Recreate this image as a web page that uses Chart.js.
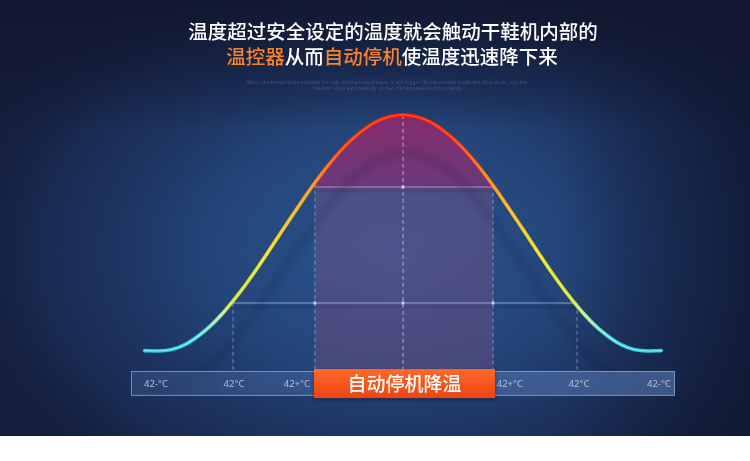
<!DOCTYPE html>
<html><head><meta charset="utf-8">
<script src="https://cdn.jsdelivr.net/npm/chart.js@4.4.1/dist/chart.umd.min.js"></script>
<style>html,body{margin:0;padding:0;background:#fff;}canvas{display:block;}</style>
</head><body>
<canvas id="c" width="750" height="461"></canvas>
<script>
// ---------- data ----------
const titleLine1 = '温度超过安全设定的温度就会触动干鞋机内部的';
const titleLine2Parts = ['温控器', '从而', '自动停机', '使温度迅速降下来'];
const titleLine2Accent = [true, false, true, false];
const subTextLines = [
  'When the temperature exceeds the safe setting temperature, it will trigger the thermostat inside the shoe dryer, and the',
  'machine stops automatically so that the temperature drops rapidly.'
];
const curveX = [-9.5,-9,-8.5,-8,-7.5,-7,-6.5,-6,-5.5,-5,-4.5,-4,-3.5,-3,-2.5,-2,-1.5,-1,-0.5,0,
                 0.5,1,1.5,2,2.5,3,3.5,4,4.5,5,5.5,6,6.5,7,7.5,8,8.5,9,9.5];
const curveY = [7.5,7.4,7.9,9.8,13.1,17.4,22.8,29.0,35.9,43.3,50.9,58.4,65.8,72.7,78.9,84.3,88.6,91.9,93.8,94.5,
                 93.8,91.9,88.6,84.3,78.9,72.7,65.8,58.4,50.9,43.3,35.9,29.0,22.8,17.4,13.1,9.8,7.9,7.4,7.5];
const zoneX = [-3.24, 3.31];          // shaded zone edges
const zoneEdgeY = [69.2, 68.4];       // curve height at the zone edges
const upperLevel = 67.9;              // upper horizontal guide
const lowerLevel = 25.1;              // lower horizontal guide
const lowerSpan = [-6.25, 6.40];
const guideX = [-6.25, -3.24, 0, 3.31, 6.40];
const guideTop = [25.1, 69.2, 94.5, 68.4, 25.1];
const dotX = [-3.24, 0, 3.31, 0];
const dotY = [25.1, 25.1, 25.1, 67.9];
const tickPos = [-9.08, -6.21, -3.90, 3.93, 6.47, 9.41];
const tickLabels = ['42-°C', '42°C', '42+°C', '42+°C', '42°C', '42-°C'];
const badgeText = '自动停机降温';
const badgeSpan = [-3.27, 3.38];
const barBottom = -9.2, badgeTop = 0.7, badgeBottom = -10;

// ---------- helpers ----------
const pts = (xs, ys) => xs.map((x, i) => ({x, y: ys[i]}));
function vGrad(chart, stops) {
  const y = chart.scales.y, ctx = chart.ctx;
  const g = ctx.createLinearGradient(0, y.getPixelForValue(0), 0, y.getPixelForValue(95));
  stops.forEach(s => g.addColorStop(s[0], s[1]));
  return g;
}
const curveStops = [[0, '#18c8e8'], [0.078, '#1ed2e8'], [0.15, '#4cdcd0'], [0.21, '#a8e69a'],
  [0.27, '#c8e02a'], [0.47, '#e8dc18'], [0.65, '#f6aa1c'], [0.74, '#ff8414'], [0.84, '#ff4410'], [1, '#ff1a06']];
const hiStops = [[0, 'rgba(150,245,255,0.6)'], [0.2, 'rgba(230,255,220,0.7)'], [0.45, 'rgba(255,250,140,0.6)'],
  [0.7, 'rgba(255,200,110,0.5)'], [1, 'rgba(255,140,80,0.5)']];
const fillStops = [[0, 'rgba(125,75,125,0.42)'], [0.7, 'rgba(130,85,135,0.40)'], [0.715, 'rgba(175,38,112,0.5)'],
  [1, 'rgba(200,28,100,0.6)']];

const zoneData = [{x: zoneX[0], y: zoneEdgeY[0]}]
  .concat(pts(curveX, curveY).filter(p => p.x > zoneX[0] && p.x < zoneX[1]))
  .concat([{x: zoneX[1], y: zoneEdgeY[1]}]);

const datasets = [];
datasets.push({ // shaded zone
  data: zoneData, borderWidth: 0, borderColor: 'rgba(0,0,0,0)', fill: 'origin',
  backgroundColor: c => c.chart.chartArea ? vGrad(c.chart, fillStops) : 'rgba(0,0,0,0)',
  cubicInterpolationMode: 'monotone', pointRadius: 0, order: 10
});
datasets.push({ // lower horizontal guide
  data: [{x: lowerSpan[0], y: lowerLevel}, {x: lowerSpan[1], y: lowerLevel}],
  borderColor: 'rgba(150,172,225,0.6)', borderWidth: 1.5, pointRadius: 0, order: 8, shadow: 'line'
});
datasets.push({ // upper horizontal guide
  data: [{x: zoneX[0], y: upperLevel}, {x: zoneX[1], y: upperLevel}],
  borderColor: 'rgba(185,160,215,0.55)', borderWidth: 1.5, pointRadius: 0, order: 8, shadow: 'line'
});
guideX.forEach((gx, i) => datasets.push({
  data: [{x: gx, y: guideTop[i]}, {x: gx, y: 0}],
  borderColor: gx === 0 ? 'rgba(205,205,250,0.75)' : 'rgba(150,165,230,0.7)',
  borderWidth: 1, borderDash: [4, 3], pointRadius: 0, order: 7
}));
datasets.push({ // small square markers
  data: pts(dotX, dotY), showLine: false, pointStyle: 'rect', pointRadius: 2,
  pointBackgroundColor: '#c4cdf6', pointBorderWidth: 0, order: 6
});
datasets.push({ // main bell curve
  data: pts(curveX, curveY), borderWidth: 3.6, cubicInterpolationMode: 'monotone', pointRadius: 0,
  borderColor: c => c.chart.chartArea ? vGrad(c.chart, curveStops) : '#f00',
  borderCapStyle: 'round', order: 2, shadow: 'curve'
});
datasets.push({ // highlight stripe
  data: pts(curveX, curveY), borderWidth: 1.1, cubicInterpolationMode: 'monotone', pointRadius: 0,
  borderColor: c => c.chart.chartArea ? vGrad(c.chart, hiStops) : '#fff', order: 1
});

// ---------- plugins ----------
const bgPlugin = {
  id: 'bg',
  beforeDraw(chart) {
    const {ctx, width, height} = chart;
    const H = 436;
    ctx.save();
    ctx.fillStyle = '#ffffff'; ctx.fillRect(0, 0, width, height);
    ctx.fillStyle = '#141d3b'; ctx.fillRect(0, 0, width, H);
    ctx.beginPath(); ctx.rect(0, 0, width, H); ctx.clip();
    ctx.save();
    ctx.translate(390, 250); ctx.scale(1.45, 1);
    const g = ctx.createRadialGradient(0, 0, 0, 0, 0, 320);
    g.addColorStop(0, 'rgba(42,86,144,1)');
    g.addColorStop(0.4, 'rgba(36,70,124,0.95)');
    g.addColorStop(0.75, 'rgba(29,50,94,0.65)');
    g.addColorStop(1, 'rgba(20,30,60,0)');
    ctx.fillStyle = g; ctx.fillRect(-400, -320, 800, 640);
    ctx.restore();
    const tg = ctx.createLinearGradient(0, 0, 0, 130);
    tg.addColorStop(0, 'rgba(16,22,46,0.9)'); tg.addColorStop(1, 'rgba(16,22,46,0)');
    ctx.fillStyle = tg; ctx.fillRect(0, 0, width, 130);
    const rg = ctx.createLinearGradient(560, 0, width, 0);
    rg.addColorStop(0, 'rgba(14,22,48,0)'); rg.addColorStop(1, 'rgba(14,22,48,0.6)');
    ctx.fillStyle = rg; ctx.fillRect(560, 0, width - 560, H);
    ctx.restore();
  },
  beforeDatasetDraw(chart, args) {
    const ds = chart.data.datasets[args.index];
    const ctx = chart.ctx;
    ctx.save();
    if (ds.shadow === 'curve') {
      ctx.shadowColor = 'rgba(8,14,36,0.32)'; ctx.shadowBlur = 8; ctx.shadowOffsetX = 2; ctx.shadowOffsetY = 38;
    } else if (ds.shadow === 'line') {
      ctx.shadowColor = 'rgba(10,16,40,0.35)'; ctx.shadowBlur = 2; ctx.shadowOffsetY = 4;
    }
  },
  afterDatasetDraw(chart) { chart.ctx.restore(); },
  afterDatasetsDraw(chart) {
    const {ctx, scales: {x, y}} = chart;
    ctx.save();
    // bottom strip
    const bl = x.getPixelForValue(-10), br = x.getPixelForValue(10);
    const bt = y.getPixelForValue(0), bb = y.getPixelForValue(barBottom);
    const sg = ctx.createLinearGradient(bl, 0, br, 0);
    sg.addColorStop(0, 'rgba(70,100,160,0.35)'); sg.addColorStop(1, 'rgba(110,150,215,0.45)');
    ctx.fillStyle = sg; ctx.fillRect(bl, bt, br - bl, bb - bt);
    ctx.strokeStyle = 'rgba(130,160,215,0.8)'; ctx.lineWidth = 1;
    ctx.strokeRect(bl + 0.5, bt + 0.5, br - bl - 1, bb - bt - 1);
    // tick labels
    ctx.fillStyle = 'rgba(200,212,236,0.85)';
    ctx.font = '9.5px "Noto Sans", "DejaVu Sans", sans-serif';
    ctx.textAlign = 'center'; ctx.textBaseline = 'middle';
    tickPos.forEach((p, i) => ctx.fillText(tickLabels[i], x.getPixelForValue(p), (bt + bb) / 2 + 1));
    // orange badge
    const ol = x.getPixelForValue(badgeSpan[0]), or = x.getPixelForValue(badgeSpan[1]);
    const ot = y.getPixelForValue(badgeTop), ob = y.getPixelForValue(badgeBottom);
    const og = ctx.createLinearGradient(0, ot, 0, ob);
    og.addColorStop(0, '#ff6a2a'); og.addColorStop(1, '#ec4412');
    ctx.save();
    ctx.shadowColor = 'rgba(0,0,0,0.35)'; ctx.shadowBlur = 4; ctx.shadowOffsetY = 2;
    ctx.fillStyle = og; ctx.fillRect(ol, ot, or - ol, ob - ot);
    ctx.restore();
    ctx.fillStyle = '#ffffff';
    ctx.font = '500 19px "Noto Sans CJK SC", sans-serif';
    ctx.fillText(badgeText, (ol + or) / 2, (ot + ob) / 2);
    ctx.restore();
  },
  afterDraw(chart) {
    const ctx = chart.ctx;
    ctx.save();
    ctx.textBaseline = 'middle';
    ctx.font = '500 19.5px "Noto Sans CJK SC", sans-serif';
    ctx.textAlign = 'center';
    ctx.fillStyle = '#ffffff';
    ctx.fillText(titleLine1, 393, 32);
    const widths = titleLine2Parts.map(t => ctx.measureText(t).width);
    const total = widths.reduce((a, b) => a + b, 0);
    let cx = 392 - total / 2;
    ctx.textAlign = 'left';
    titleLine2Parts.forEach((t, i) => {
      ctx.fillStyle = titleLine2Accent[i] ? '#f5852c' : '#ffffff';
      ctx.fillText(t, cx, 57);
      cx += widths[i];
    });
    ctx.textAlign = 'center';
    ctx.font = '5px "DejaVu Sans", sans-serif';
    ctx.fillStyle = 'rgba(120,140,195,0.45)';
    ctx.fillText(subTextLines[0], 387, 83, 280);
    ctx.fillText(subTextLines[1], 388, 89, 150);
    ctx.restore();
  }
};

new Chart(document.getElementById('c'), {
  type: 'line',
  data: {datasets},
  options: {
    responsive: false, animation: false, devicePixelRatio: 1,
    layout: {padding: {left: 131, right: 75, top: 100, bottom: 57.5}},
    scales: {
      x: {type: 'linear', min: -10, max: 10, display: false},
      y: {type: 'linear', min: -12, max: 100, display: false}
    },
    plugins: {legend: {display: false}, tooltip: {enabled: false}, title: {display: false}},
    elements: {point: {radius: 0}}
  },
  plugins: [bgPlugin]
});
</script>
</body></html>
